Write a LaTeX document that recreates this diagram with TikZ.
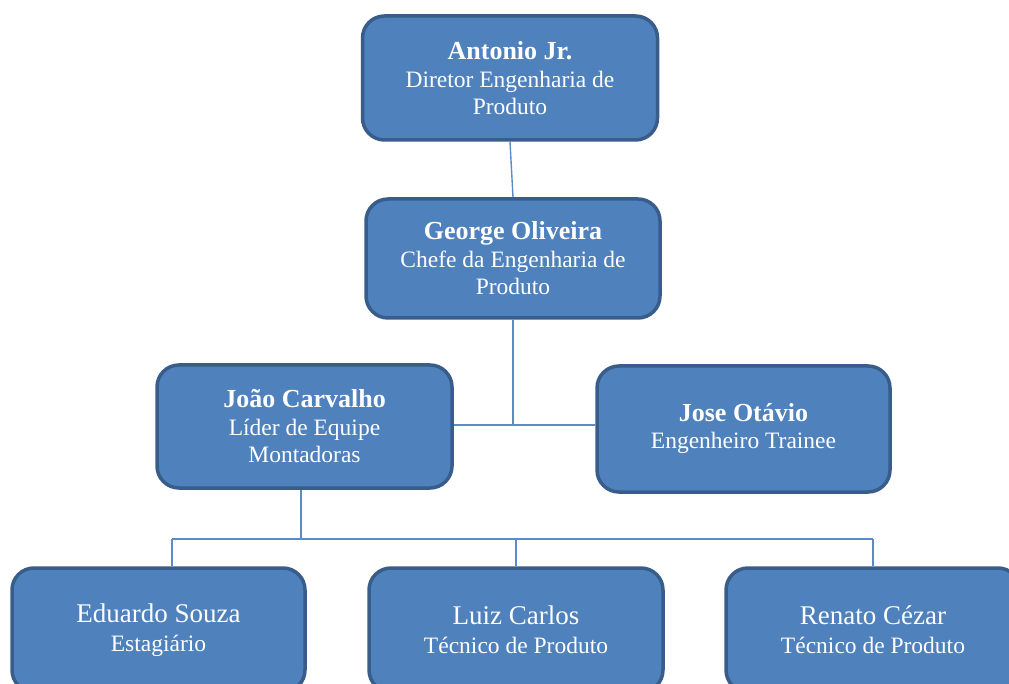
\documentclass[tikz,border=0pt]{standalone}
\usepackage{fontspec}
\setmainfont{Liberation Serif}
\usetikzlibrary{backgrounds}
\definecolor{boxfill}{HTML}{4F81BD}
\definecolor{boxborder}{HTML}{385D8A}
\definecolor{linkcol}{HTML}{5B8BC8}
\newcommand\nameb[1]{{\fontsize{26}{30}\selectfont\bfseries #1}}
\newcommand\namer[1]{{\fontsize{27}{30}\selectfont #1}}
\begin{document}
\begin{tikzpicture}[x=1pt,y=-1pt,
  orgbox/.style={draw=boxborder, fill=boxfill, line width=3.5pt, rounded corners=22pt,
    text=white, align=center, inner sep=0pt,
    font=\fontsize{23.5}{27}\selectfont},
  link/.style={draw=linkcol, line width=1.4pt}]
\useasboundingbox (0,0) rectangle (1009,684);
\clip (0,0) rectangle (1009,684);
% nodes
\node[orgbox, minimum width=295, minimum height=124] (antonio) at (510,78)
  {\nameb{Antonio Jr.}\\[1pt]Diretor Engenharia de\\Produto};
\node[orgbox, minimum width=294, minimum height=119] (george) at (513,258.5)
  {\nameb{George Oliveira}\\[1pt]Chefe da Engenharia de\\Produto};
\node[orgbox, minimum width=295, minimum height=123] (joao) at (304.5,426.5)
  {\nameb{João Carvalho}\\[1pt]Líder de Equipe\\Montadoras};
\node[orgbox, minimum width=293, minimum height=126] (jose) at (743.5,429)
  {\nameb{Jose Otávio}\\[0pt]Engenheiro Trainee};
\node[orgbox, minimum width=293, minimum height=124] (eduardo) at (158.5,630)
  {\namer{Eduardo Souza}\\[2pt]Estagiário};
\node[orgbox, minimum width=294, minimum height=124] (luiz) at (516,630)
  {\namer{Luiz Carlos}\\[2pt]Técnico de Produto};
\node[orgbox, minimum width=294, minimum height=124] (renato) at (873,630)
  {\namer{Renato Cézar}\\[2pt]Técnico de Produto};
% connector junctions
\coordinate (gj) at (513,425);
\coordinate (jb) at (301,539);
\coordinate (bl) at (172,539);
\coordinate (bm) at (516,539);
\coordinate (br) at (873,539);
% connectors (behind boxes)
\begin{scope}[on background layer]
\draw[link] (antonio.south) -- (george.north);
\draw[link] (george.south) -- (gj);
\draw[link] (joao.east |- gj) -- (jose.west |- gj);
\draw[link] (jb |- joao.south) -- (jb);
\draw[link] (bl) -- (br);
\draw[link] (bl) -- (bl |- eduardo.north);
\draw[link] (bm) -- (luiz.north);
\draw[link] (br) -- (renato.north);
\end{scope}
\end{tikzpicture}
\end{document}
